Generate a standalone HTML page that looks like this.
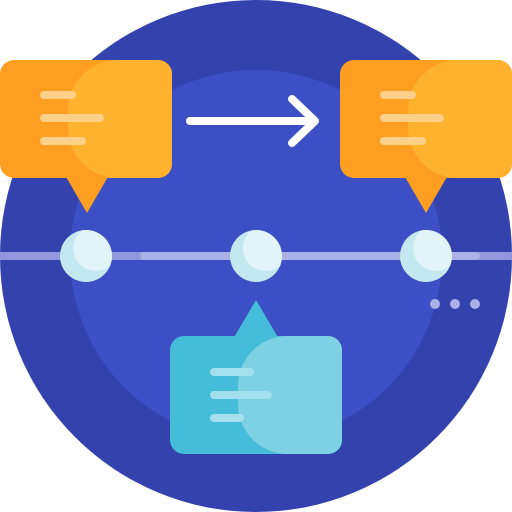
<!DOCTYPE html>
<html><head><meta charset="utf-8"><style>html,body{margin:0;padding:0;background:#fff}svg{display:block}</style></head>
<body>
<svg width="512" height="512" viewBox="0 0 512 512" xmlns="http://www.w3.org/2000/svg">
<defs>
<clipPath id="c1"><circle cx="86" cy="256" r="26"/></clipPath>
<clipPath id="c2"><circle cx="256" cy="256" r="26"/></clipPath>
<clipPath id="c3"><circle cx="426" cy="256" r="26"/></clipPath>
</defs>
<circle cx="256" cy="256" r="256" fill="#3342ad"/>
<circle cx="256" cy="256" r="186" fill="#3c4fc4"/>
<rect x="0" y="252" width="512" height="8" fill="#8f99dc"/>
<rect x="140" y="252" width="340" height="8" rx="4" fill="#a9b1e6"/>
<g>
<circle cx="86" cy="256" r="26" fill="#c3e8f0"/><circle cx="96" cy="248" r="23" fill="#e1f4f8" clip-path="url(#c1)"/>
<circle cx="256" cy="256" r="26" fill="#c3e8f0"/><circle cx="266" cy="248" r="23" fill="#e1f4f8" clip-path="url(#c2)"/>
<circle cx="426" cy="256" r="26" fill="#c3e8f0"/><circle cx="436" cy="248" r="23" fill="#e1f4f8" clip-path="url(#c3)"/>
</g>
<circle cx="435" cy="304" r="5" fill="#a9b1e6"/><circle cx="455" cy="304" r="5" fill="#a9b1e6"/><circle cx="475" cy="304" r="5" fill="#a9b1e6"/>
<polygon points="62,170 112,170 87,213" fill="#ff9f22"/>
<rect x="0" y="60" width="172" height="118" rx="14" fill="#ff9f22"/>
<path d="M118,60 H158 A14,14 0 0 1 172,74 V164 A14,14 0 0 1 158,178 H118 A50,50 0 0 1 68,128 V110 A50,50 0 0 1 118,60 Z" fill="#ffb22e"/>
<g stroke="#ffd08a" stroke-width="8" stroke-linecap="round">
<line x1="44" y1="95" x2="72" y2="95"/><line x1="44" y1="118" x2="100" y2="118"/><line x1="44" y1="141" x2="82" y2="141"/>
</g>
<polygon points="401,170 451,170 426,213" fill="#ff9f22"/>
<rect x="340" y="60" width="172" height="118" rx="14" fill="#ff9f22"/>
<path d="M458,60 H498 A14,14 0 0 1 512,74 V164 A14,14 0 0 1 498,178 H458 A50,50 0 0 1 408,128 V110 A50,50 0 0 1 458,60 Z" fill="#ffb22e"/>
<g stroke="#ffd08a" stroke-width="8" stroke-linecap="round">
<line x1="384" y1="95" x2="412" y2="95"/><line x1="384" y1="118" x2="440" y2="118"/><line x1="384" y1="141" x2="422" y2="141"/>
</g>
<g stroke="#fff" stroke-width="8" stroke-linecap="round" stroke-linejoin="round" fill="none">
<line x1="190" y1="121" x2="314" y2="121"/><polyline points="292,99 315,121 292,143"/>
</g>
<polygon points="230,344 282,344 256,300" fill="#45bdd8"/>
<rect x="170" y="336" width="172" height="118" rx="14" fill="#45bdd8"/>
<path d="M288,336 H328 A14,14 0 0 1 342,350 V440 A14,14 0 0 1 328,454 H288 A50,50 0 0 1 238,404 V386 A50,50 0 0 1 288,336 Z" fill="#7ed1e3"/>
<g stroke="#a3dfec" stroke-width="8" stroke-linecap="round">
<line x1="214" y1="372" x2="250" y2="372"/><line x1="214" y1="395" x2="268" y2="395"/><line x1="214" y1="418" x2="240" y2="418"/>
</g>
</svg>
</body></html>
